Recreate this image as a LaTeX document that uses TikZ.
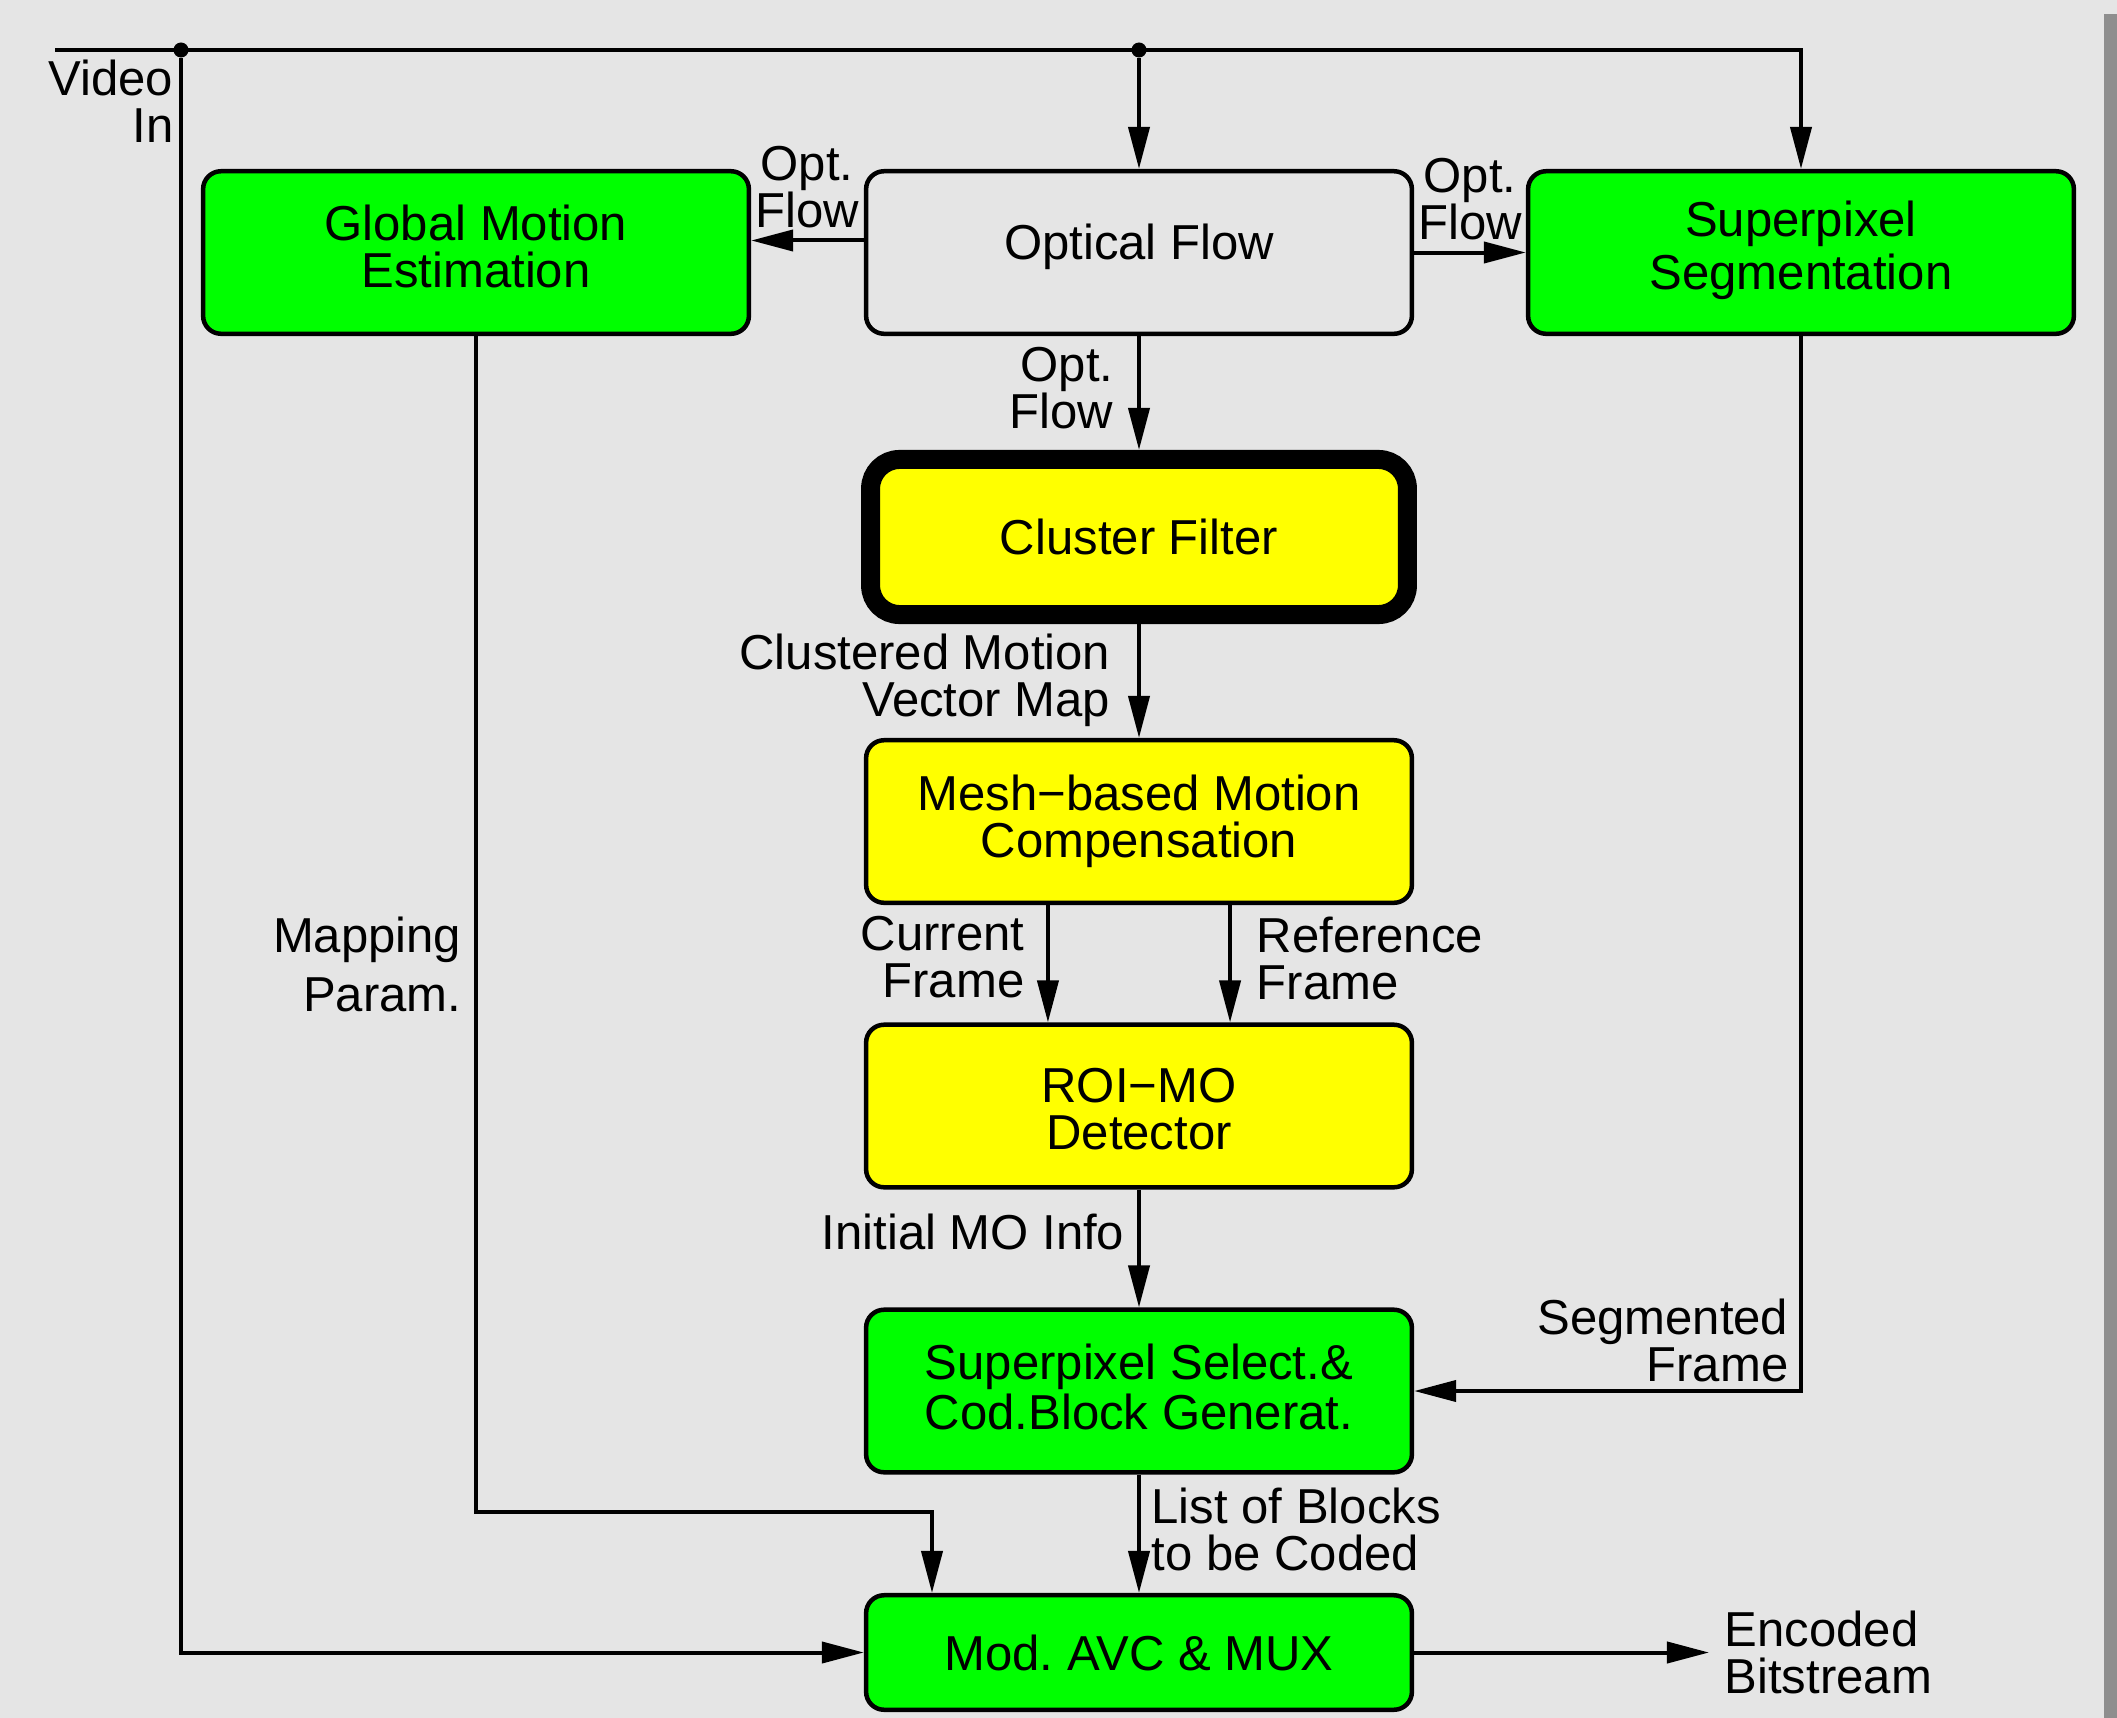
\documentclass[tikz,border=0pt]{standalone}
\usepackage{fontspec}
\setmainfont{Liberation Sans}
\usetikzlibrary{arrows.meta}
\definecolor{bg}{HTML}{E5E5E5}
\definecolor{barc}{HTML}{8E8E8E}
\definecolor{gfill}{HTML}{00FF00}
\definecolor{yfill}{HTML}{FFFF00}
\newcommand{\dropby}[1]{\rule[-#1]{0pt}{0pt}}
\begin{document}
\begin{tikzpicture}[x=0.01cm,y=-0.01cm,
  every node/.style={font=\fontsize{13.95pt}{13.37pt}\selectfont\frenchspacing},
  blk/.style={draw, line width=0.045cm, outer sep=0.0225cm, rounded corners=0.18cm,
    minimum width=5.455cm, minimum height=1.625cm, align=center, inner sep=0pt},
  gblk/.style={blk, fill=gfill},
  yblk/.style={blk, fill=yfill},
  wblk/.style={blk, fill=bg},
  lbl/.style={inner sep=0pt},
  wire/.style={line width=0.04cm},
  arr/.style={wire, -{Triangle[length=0.42cm,width=0.21cm]}},
  jdot/.style={circle, fill, inner sep=0pt, minimum size=0.15cm}
]
\useasboundingbox (0,0) rectangle (2117,1718);
\fill[bg] (0,0) rectangle (2117,1718);
\fill[barc] (2104,14) rectangle (2117,1718);

% blocks
\node[gblk] (GME) at (476,252.5) {Global Motion\\Estimation\dropby{0.12cm}};
\node[wblk] (OF) at (1139,252.5) {Optical Flow\dropby{0.22cm}};
\node[gblk] (SPS) at (1801,252.5) {Superpixel\\[0.06cm]Segmentation\dropby{0.14cm}};
\node[yblk, line width=0.19cm, outer sep=0.095cm, rounded corners=0.29cm,
      minimum width=5.365cm, minimum height=1.55cm] (CF) at (1139,537) {Cluster Filter};
\node[yblk] (MESH) at (1139,821.5) {Mesh−based Motion\\Compensation};
\node[yblk] (ROI) at (1139,1106) {\rule{0pt}{0.41cm}ROI−MO\\Detector};
\node[gblk] (SEL) at (1139,1391) {Superpixel Select.\&\\[0.03cm]Cod.Block Generat.\dropby{0.08cm}};
\node[gblk, minimum height=1.145cm] (MUX) at (1139,1652.5) {Mod. AVC \& MUX};

% labels
\node[lbl, anchor=north east, align=right] (LVin) at (174,59) {Video\\In};
\node[lbl, anchor=north, align=center] (LOF1) at (807,146) {Opt.\\Flow};
\node[lbl, anchor=north, align=center] (LOF2) at (1470,158) {Opt.\\Flow};
\node[lbl, anchor=north east, align=right] (LOF3) at (1114,347) {Opt.\\Flow};
\node[lbl, anchor=north east, align=right] (LCM) at (1111,633) {Clustered Motion\\Vector Map};
\node[lbl, anchor=north east, align=right] (LCur) at (1025,916) {Current\\Frame};
\node[lbl, anchor=north west, align=left] (LRef) at (1256,916) {Reference\\Frame};
\node[lbl, anchor=north east, align=right] (LMap) at (462,916) {Mapping\\[0.12cm]Param.};
\node[lbl, anchor=north east] (LMO) at (1125,1213) {Initial MO Info};
\node[lbl, anchor=north east, align=right] (LSeg) at (1789,1298) {Segmented\\Frame};
\node[lbl, anchor=north west, align=left] (LList) at (1151,1487) {List of Blocks\\to be Coded};
\node[lbl, anchor=north west, align=left] (LEnc) at (1724,1610) {Encoded\\Bitstream};

% connectors
\coordinate (vin) at (55,50);
\node[jdot] (d1) at (181,50) {};
\node[jdot] (d2) at (1139,50) {};
\draw[arr] (vin) -| (SPS.north);
\draw[arr] (d2) -- (OF.north);
\draw[arr] (d1) |- (MUX.west);
\draw[arr] ([yshift=0.12cm]OF.west) -- ([yshift=0.12cm]GME.east);
\draw[arr] (OF.east) -- (SPS.west);
\draw[arr] (OF.south) -- (CF.north);
\draw[arr] (CF.south) -- (MESH.north);
\draw[arr] ([xshift=-0.91cm]MESH.south) -- ([xshift=-0.91cm]ROI.north);
\draw[arr] ([xshift=0.91cm]MESH.south) -- ([xshift=0.91cm]ROI.north);
\draw[arr] (ROI.south) -- (SEL.north);
\draw[arr] (SPS.south) |- (SEL.east);
\draw[arr] (SEL.south) -- (MUX.north);
\coordinate (gm) at (932,1512);
\draw[arr] (GME.south) |- (gm) -- (gm |- MUX.north);
\coordinate (out) at (1709,1652.5);
\draw[arr] (MUX.east) -- (out);
\end{tikzpicture}
\end{document}
